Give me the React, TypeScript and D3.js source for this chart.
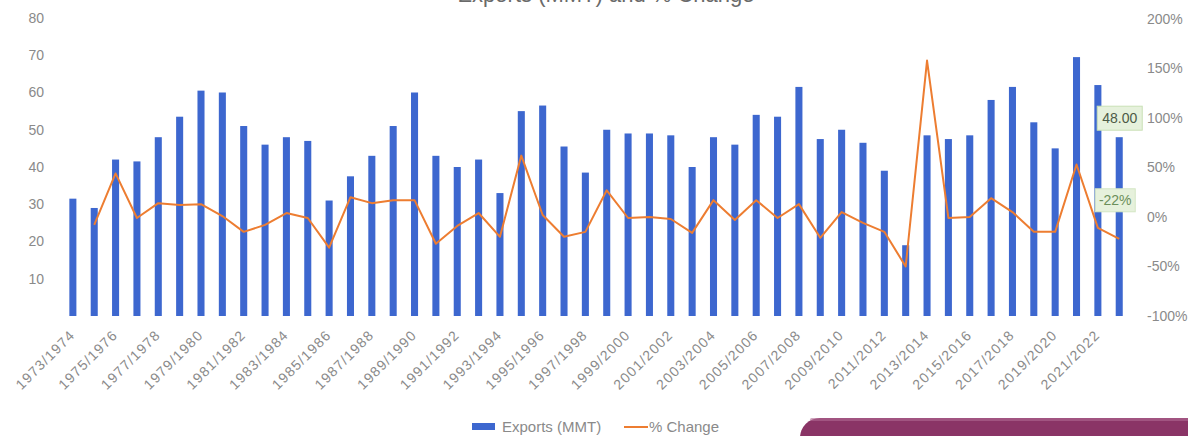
import React from "react";
import * as d3 from "d3";

// Marketing years, exports in million metric tons, and year-on-year change
const years: string[] = [
  "1973/1974", "1974/1975", "1975/1976", "1976/1977", "1977/1978", "1978/1979",
  "1979/1980", "1980/1981", "1981/1982", "1982/1983", "1983/1984", "1984/1985",
  "1985/1986", "1986/1987", "1987/1988", "1988/1989", "1989/1990", "1990/1991",
  "1991/1992", "1992/1993", "1993/1994", "1994/1995", "1995/1996", "1996/1997",
  "1997/1998", "1998/1999", "1999/2000", "2000/2001", "2001/2002", "2002/2003",
  "2003/2004", "2004/2005", "2005/2006", "2006/2007", "2007/2008", "2008/2009",
  "2009/2010", "2010/2011", "2011/2012", "2012/2013", "2013/2014", "2014/2015",
  "2015/2016", "2016/2017", "2017/2018", "2018/2019", "2019/2020", "2020/2021",
  "2021/2022", "2022/2023",
];

const exportsMMT: number[] = [
  31.5, 29, 42, 41.5, 48, 53.5, 60.5, 60, 51, 46,
  48, 47, 31, 37.5, 43, 51, 60, 43, 40, 42,
  33, 55, 56.5, 45.5, 38.5, 50, 49, 49, 48.5, 40,
  48, 46, 54, 53.5, 61.5, 47.5, 50, 46.5, 39, 19,
  48.5, 47.5, 48.5, 58, 61.5, 52, 45, 69.5, 62, 48,
];

const pctChange: (number | null)[] = [
  null, -8, 44, -1, 14, 12, 13, 1, -15, -8,
  4, -1, -31, 20, 14, 17, 17, -27, -9, 4,
  -20, 62, 2, -20, -15, 27, -1, 0, -2, -16,
  17, -3, 17, -1, 13, -21, 5, -6, -15, -50,
  158, -1, 0, 19, 5, -15, -15, 53, -11, -22,
];

const leftTicks: number[] = [10, 20, 30, 40, 50, 60, 70, 80];
const rightTicks: number[] = [-100, -50, 0, 50, 100, 150, 200];

const W = 1188;
const H = 436;
const FONT = "'Liberation Sans', Arial, sans-serif";
const TEXT = "#8a8a8a";
const BLUE = "#3d67cf";
const ORANGE = "#ed7d31";

export default function App() {
  const x = d3
    .scaleBand<string>()
    .domain(years)
    .range([62.3, 1129.8])
    .paddingInner(0.67)
    .paddingOuter(0.33);
  const center = (i: number) => (x(years[i]) ?? 0) + x.bandwidth() / 2;

  const yL = d3.scaleLinear().domain([0, 80]).range([316, 18]);
  const yR = d3.scaleLinear().domain([-100, 200]).range([316, 19]);

  const line = d3
    .line<number | null>()
    .defined((d) => d !== null)
    .x((_, i) => center(i))
    .y((d) => yR(d as number));

  const last = years.length - 1;
  const lastPct = pctChange[last] as number;

  return (
    <svg
      width={W}
      height={H}
      style={{ position: "absolute", left: 0, top: 0, background: "#fff" }}
      fontFamily={FONT}
    >
      {/* chart title, running off the top edge */}
      <text x={606} y={2} textAnchor="middle" fontSize={22} fill="#6a6a6a">
        Exports (MMT) and % Change
      </text>

      {/* left axis */}
      {leftTicks.map((t) => (
        <text key={"l" + t} x={44} y={yL(t)} dy="0.35em" textAnchor="end" fontSize={14} fill={TEXT}>
          {t}
        </text>
      ))}

      {/* right axis */}
      {rightTicks.map((t) => (
        <text key={"r" + t} x={1147} y={yR(t)} dy="0.35em" textAnchor="start" fontSize={14} fill={TEXT}>
          {t + "%"}
        </text>
      ))}

      {/* bars */}
      {exportsMMT.map((v, i) => (
        <rect
          key={"b" + i}
          x={x(years[i])}
          y={yL(v)}
          width={x.bandwidth()}
          height={yL(0) - yL(v)}
          fill={BLUE}
        />
      ))}

      {/* % change line */}
      <path d={line(pctChange) ?? ""} fill="none" stroke={ORANGE} strokeWidth={2} strokeLinejoin="round" />

      {/* category labels, every second year */}
      {years.map((yr, i) =>
        i % 2 === 0 ? (
          <text
            key={"x" + i}
            transform={`translate(${center(i) + 3},${336}) rotate(-45)`}
            textAnchor="end"
            fontSize={14}
            letterSpacing={1.2}
            fill={TEXT}
          >
            {yr}
          </text>
        ) : null
      )}

      {/* data callouts on the latest year */}
      <g>
        <rect x={center(last) - 22} y={yL(exportsMMT[last]) - 31} width={45} height={24} fill="#e6f1dc" stroke="#c9e0b6" />
        <text x={center(last) + 0.5} y={yL(exportsMMT[last]) - 19} dy="0.35em" textAnchor="middle" fontSize={14} fill="#4d5a46">
          {exportsMMT[last].toFixed(2)}
        </text>
        <rect x={center(last) - 24} y={yR(lastPct) - 50} width={40} height={23} fill="#e6f1dc" stroke="#d3e6c4" />
        <text x={center(last) - 4} y={yR(lastPct) - 38.5} dy="0.35em" textAnchor="middle" fontSize={14} fill="#6b8f5a">
          {lastPct + "%"}
        </text>
      </g>

      {/* legend */}
      <rect x={472} y={423} width={23} height={7} fill={BLUE} />
      <text x={502} y={427} dy="0.35em" fontSize={15} fill={TEXT}>
        Exports (MMT)
      </text>
      <line x1={624} x2={648} y1={427} y2={427} stroke={ORANGE} strokeWidth={2} />
      <text x={649} y={427} dy="0.35em" fontSize={15} fill={TEXT}>
        % Change
      </text>

      {/* panel edge at the lower right */}
      <rect x={800} y={418} width={420} height={60} rx={20} fill="#8a3466" />
      <rect x={810} y={418} width={400} height={3} rx={1.5} fill="#b06a93" opacity={0.6} />
    </svg>
  );
}
